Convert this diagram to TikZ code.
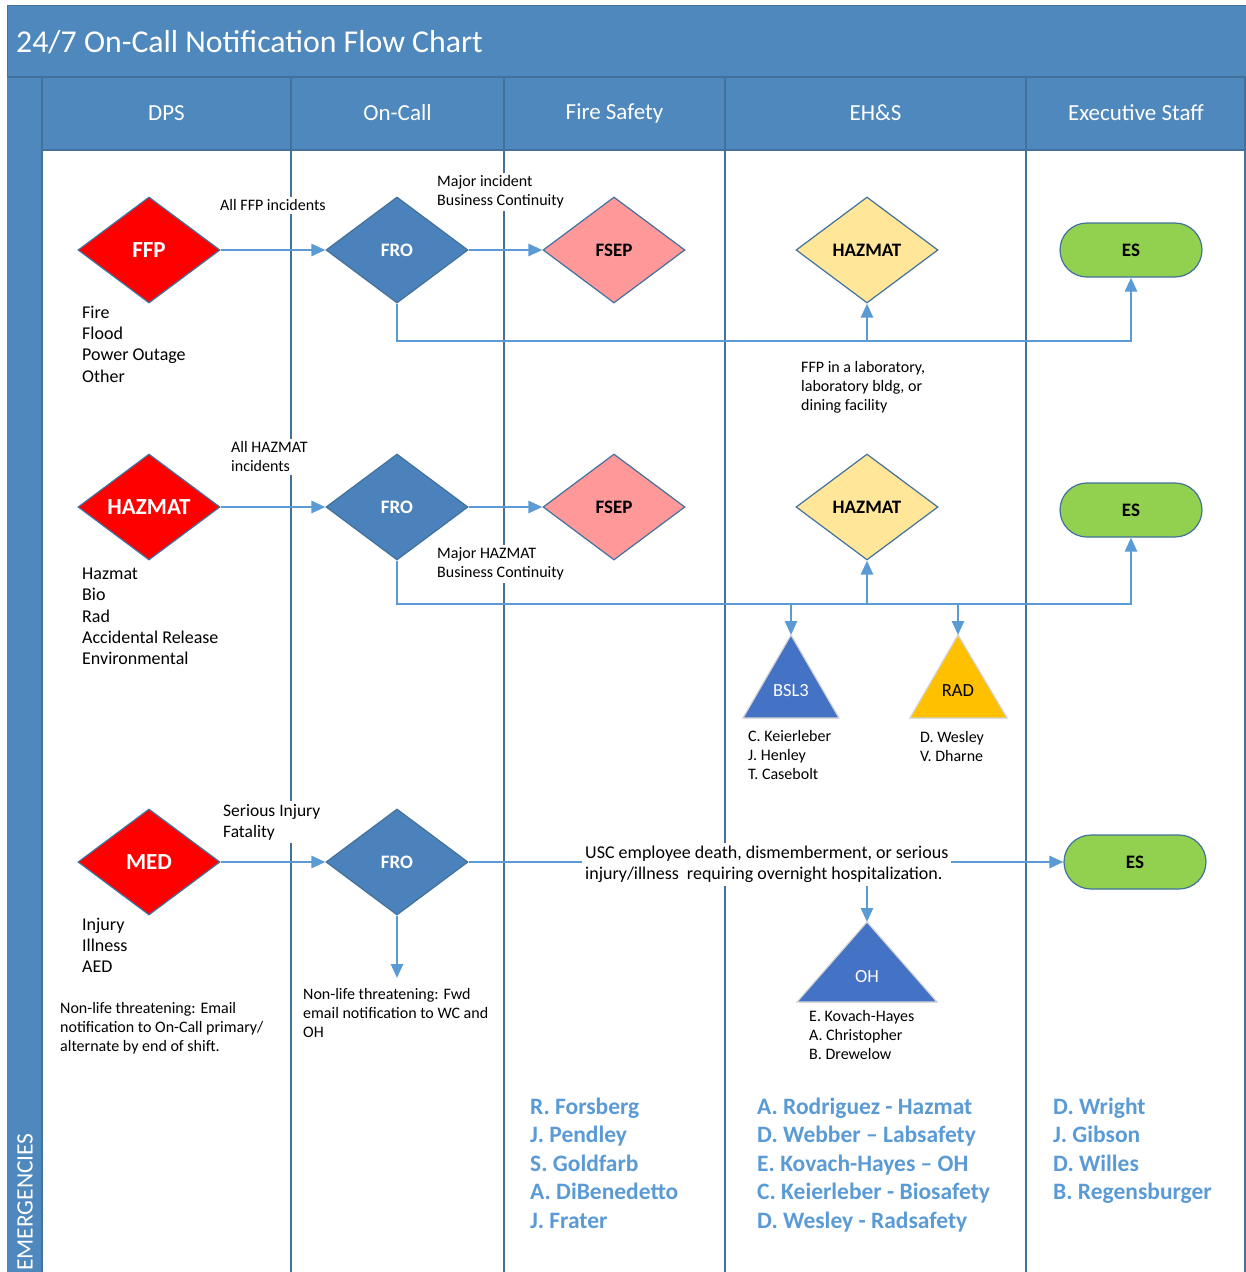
\documentclass[tikz,border=0pt]{standalone}
\usepackage{fontspec}
\setmainfont{Carlito}
\usetikzlibrary{shapes.geometric,arrows.meta}

\definecolor{laneblue}{RGB}{79,136,189}
\definecolor{lanedark}{RGB}{65,113,156}
\definecolor{flowblue}{RGB}{91,155,213}
\definecolor{frofill}{RGB}{76,130,187}
\definecolor{fsepred}{RGB}{255,153,153}
\definecolor{hazyellow}{RGB}{255,230,153}
\definecolor{esgreen}{RGB}{146,208,80}
\definecolor{triblue}{RGB}{68,114,196}
\definecolor{radorange}{RGB}{255,192,0}

\newcommand{\fsz}[2]{\fontsize{#1}{#2}\selectfont}

\tikzset{
  lane/.style={draw=lanedark, line width=2pt},
  flow/.style={draw=flowblue, line width=2.6pt, -{Triangle[length=14pt,width=12pt]}},
  gate/.style={diamond, draw=lanedark, line width=1.2pt, inner sep=0pt,
    minimum width=142, minimum height=106, font=\bfseries\fsz{19}{22}},
  srcgate/.style={gate, fill=red, text=white, font=\bfseries\fsz{23}{26}},
  frogate/.style={gate, fill=frofill, text=white},
  fsepgate/.style={gate, fill=fsepred},
  hazgate/.style={gate, fill=hazyellow},
  esbox/.style={rectangle, rounded corners=27, draw=lanedark, line width=1.2pt,
    fill=esgreen, minimum width=142, minimum height=54, font=\bfseries\fsz{19}{22}},
  tri/.style={draw=gray!35, line width=1.2pt},
  trilab/.style={font=\fsz{18.5}{22}, inner sep=0pt},
  note/.style={font=\fsz{16}{19}, align=left, anchor=north west, inner sep=0pt},
  notelab/.style={note, fill=white, inner sep=3pt},
  cases/.style={font=\fsz{18}{21.2}, align=left, anchor=north west, inner sep=0pt},
  staff/.style={font=\bfseries\fsz{23.5}{28.5}, text=flowblue, align=left,
    anchor=north west, inner sep=0pt},
  lanehead/.style={font=\fsz{23}{26}, text=white}
}

\begin{document}
\begin{tikzpicture}[x=1pt,y=-1pt]
  \useasboundingbox (0,0) rectangle (1246,1272);
  \fill[white] (0,0) rectangle (1246,1272);

  % Title band and lane headers
  \filldraw[fill=laneblue, draw=lanedark, line width=1pt] (7,5) rectangle (1246,77);
  \fill[laneblue] (7,77) rectangle (42,1272);
  \fill[laneblue] (42,77) rectangle (1246,150);
  \node[anchor=west, text=white, font=\fsz{31.8}{34}, inner sep=0pt] (title) at (16,42)
    {24/7 On-Call Notification Flow Chart};
  \node[rotate=90, anchor=west, text=white, font=\fsz{23.5}{26}, inner sep=0pt] (emerg) at (25,1271)
    {EMERGENCIES};

  % Lane dividers
  \draw[lane] (7,77) -- (1246,77);
  \draw[lane] (42,150) -- (1246,150);
  \foreach \lx in {42,291,504,725,1026,1245}
    \draw[lane] (\lx,77) -- (\lx,1272);

  % Lane names
  \node[lanehead] (hdps) at (166.5,113) {DPS};
  \node[lanehead] (hcall) at (397.5,113) {On-Call};
  \node[lanehead] (hfire) at (614.5,113) {Fire Safety};
  \node[lanehead] (hehs) at (875.5,113) {EH\&S};
  \node[lanehead] (hexec) at (1136,113) {Executive Staff};

  % Row 1: fire, flood, power
  \node[srcgate] (ffp) at (149,250) {FFP};
  \node[frogate] (fro1) at (397,250) {FRO};
  \node[fsepgate] (fsep1) at (614,250) {FSEP};
  \node[hazgate] (haz1) at (867,250) {HAZMAT};
  \node[esbox] (es1) at (1131,250) {ES};

  % Row 2: hazardous materials
  \node[srcgate] (hazsrc) at (149,507) {HAZMAT};
  \node[frogate] (fro2) at (397,507) {FRO};
  \node[fsepgate] (fsep2) at (614,507) {FSEP};
  \node[hazgate] (haz2) at (867,507) {HAZMAT};
  \node[esbox] (es2) at (1131,510) {ES};

  % BSL3 and RAD triangles
  \coordinate (bsltop) at (791,635);
  \filldraw[tri, fill=triblue] (bsltop) -- (839,718) -- (743,718) -- cycle;
  \node[trilab, text=white] (bsl) at (791,691) {BSL3};
  \coordinate (radtop) at (958,635);
  \filldraw[tri, fill=radorange] (radtop) -- (1007,718) -- (910,718) -- cycle;
  \node[trilab] (rad) at (958,691) {RAD};

  % Row 3: medical
  \node[srcgate] (med) at (149,862) {MED};
  \node[frogate] (fro3) at (397,862) {FRO};
  \node[esbox] (es3) at (1135,862) {ES};

  % OH triangle
  \coordinate (ohtop) at (867,922);
  \filldraw[tri, fill=triblue] (ohtop) -- (937,1002) -- (797,1002) -- cycle;
  \node[trilab, text=white] (oh) at (867,977) {OH};

  % Connectors row 1
  \draw[flow] (ffp) -- (fro1);
  \draw[flow] (fro1) -- (fsep1);
  \coordinate (bus1) at (397,341);
  \draw[flow] (fro1.south) -- (bus1) -| (es1.south);
  \draw[flow] (bus1 -| haz1.south) -- (haz1.south);

  % Connectors row 2
  \draw[flow] (hazsrc) -- (fro2);
  \draw[flow] (fro2) -- (fsep2);
  \coordinate (bus2) at (397,604);
  \draw[flow] (fro2.south) -- (bus2) -| (es2.south);
  \draw[flow] (bus2 -| haz2.south) -- (haz2.south);
  \draw[flow] (bus2 -| bsltop) -- (bsltop);
  \draw[flow] (bus2 -| radtop) -- (radtop);

  % Connectors row 3
  \draw[flow] (med) -- (fro3);
  \draw[flow] (fro3) -- (es3);
  \coordinate (fwdtip) at (397,978);
  \draw[flow] (fro3.south) -- (fwdtip);

  % Case lists under the sources
  \node[cases] (ffplist) at (82,306) {Fire\\Flood\\Power Outage\\Other};
  \node[cases] (hazlist) at (82,568) {Hazmat\\Bio\\Rad\\Accidental Release\\Environmental};
  \node[cases] (medlist) at (82,918) {Injury\\Illness\\AED};

  % Connector labels
  \node[notelab] (allffp) at (217,196.6) {All FFP incidents};
  \node[notelab] (majinc) at (434,172.6) {Major incident\\Business Continuity};
  \node[notelab] (ffplab) at (798,358.6) {FFP in a laboratory,\\laboratory bldg, or\\dining facility};
  \node[notelab] (allhaz) at (228,438.6) {All HAZMAT\\incidents};
  \node[notelab] (majhaz) at (434,544.6) {Major HAZMAT\\Business Continuity};
  \node[notelab, font=\fsz{17.5}{21}] (serious) at (220,801) {Serious Injury\\Fatality};
  \node[notelab, font=\fsz{18}{21}] (usc) at (582,842.8)
    {USC employee death, dismemberment, or serious\\injury/illness\ \ requiring overnight hospitalization.};
  \draw[flow] (usc.south -| ohtop) -- (ohtop);

  % Notes and names
  \node[note] (nlt1) at (60,1002.6) {Non-life threatening: Email\\notification to On-Call primary/\\alternate by end of shift.};
  \node[note] (nlt2) at (303,988.6) {Non-life threatening: Fwd\\email notification to WC and\\OH};
  \node[note] (bslnames) at (748,730.6) {C. Keierleber\\J. Henley\\T. Casebolt};
  \node[note] (radnames) at (920,731.6) {D. Wesley\\V. Dharne};
  \node[note] (ohnames) at (809,1010.6) {E. Kovach-Hayes\\A. Christopher\\B. Drewelow};

  % Staff lists
  \node[staff] (firestaff) at (530,1097.5)
    {R. Forsberg\\J. Pendley\\S. Goldfarb\\A. DiBenedetto\\J. Frater};
  \node[staff] (ehsstaff) at (757,1097.5)
    {A. Rodriguez - Hazmat\\D. Webber -- Labsafety\\E. Kovach-Hayes -- OH\\C. Keierleber - Biosafety\\D. Wesley - Radsafety};
  \node[staff] (execstaff) at (1053,1097.5)
    {D. Wright\\J. Gibson\\D. Willes\\B. Regensburger};
\end{tikzpicture}
\end{document}
